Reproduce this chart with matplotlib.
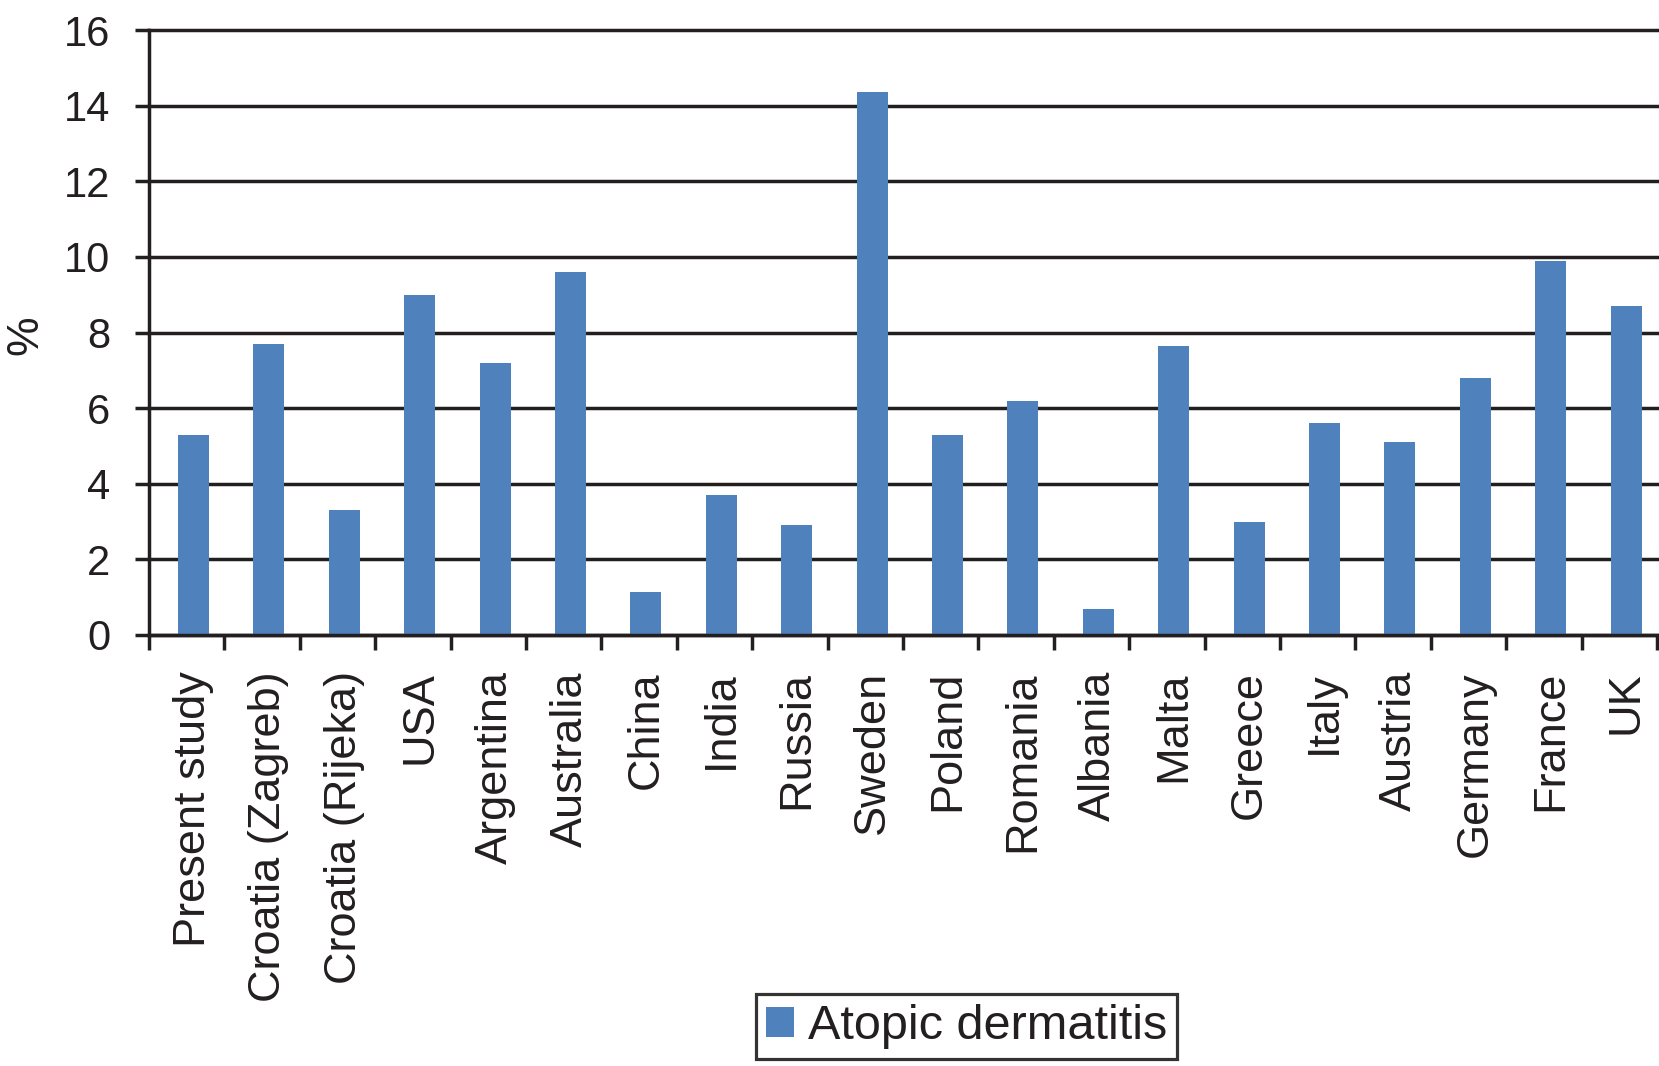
import numpy as np
import matplotlib
matplotlib.use("Agg")
import matplotlib.pyplot as plt

plt.rcParams['font.family'] = ['Liberation Sans', 'DejaVu Sans']

# Data
countries = ["Present study", "Croatia (Zagreb)", "Croatia (Rijeka)", "USA", "Argentina",
             "Australia", "China", "India", "Russia", "Sweden", "Poland", "Romania",
             "Albania", "Malta", "Greece", "Italy", "Austria", "Germany", "France", "UK"]
prevalence = [5.3, 7.7, 3.3, 9.0, 7.2, 9.6, 1.15, 3.7, 2.9, 14.35, 5.3, 6.2,
              0.7, 7.65, 3.0, 5.6, 5.1, 6.8, 9.9, 8.7]
series_name = "Atopic dermatitis"

bar_color = "#4f81bd"
ink = "#231f20"
lw = 2.5

fig = plt.figure(figsize=(16.59, 10.66), dpi=100)
ax = fig.add_axes([149 / 1659, 1 - 635 / 1066, (1657 - 149) / 1659, (635 - 30) / 1066])

# bars sit slightly right of the slot centres in the original
x = np.arange(len(countries))
xpos = x + 0.09
ax.bar(xpos, prevalence, width=0.41, color=bar_color, label=series_name, zorder=3)

ax.set_xlim(-0.5, len(countries) - 0.5)
ax.set_ylim(0, 16)
ax.set_yticks(np.arange(0, 17, 2))

# horizontal grid lines
ax.yaxis.grid(True, color=ink, linewidth=lw, zorder=1)
ax.set_axisbelow(True)
for gl in ax.get_ygridlines():
    gl.set_clip_on(False)

for side in ["top", "right"]:
    ax.spines[side].set_visible(False)
for side in ["left", "bottom"]:
    ax.spines[side].set_color(ink)
    ax.spines[side].set_linewidth(lw)
    ax.spines[side].set_zorder(4)

# category labels at bar centres, ticks at the boundaries
ax.set_xticks(xpos)
ax.set_xticklabels(countries, rotation=90, fontsize=32.5, color=ink)
ax.tick_params(axis="x", which="major", length=0, pad=26)
ax.set_xticks(np.arange(-0.5, len(countries)), minor=True)
ax.tick_params(axis="x", which="minor", length=11, width=lw, color=ink, direction="out")

ax.tick_params(axis="y", length=10, width=lw, color=ink, pad=18, labelsize=30, labelcolor=ink)

fig.text(26 / 1659, 1 - 335 / 1066, "%", rotation=90, ha="center", va="center",
         fontsize=32, color=ink)

leg = fig.legend(loc="center", bbox_to_anchor=(966.5 / 1659, 1 - 1026.5 / 1066),
                 fontsize=35, frameon=True, fancybox=False, borderpad=0.2,
                 handlelength=0.58, handleheight=0.58, handletextpad=0.27,
                 borderaxespad=0)
leg.get_frame().set_edgecolor("black")
leg.get_frame().set_linewidth(2.3)
for t in leg.get_texts():
    t.set_color(ink)

fig.savefig("out.png", dpi=100)
